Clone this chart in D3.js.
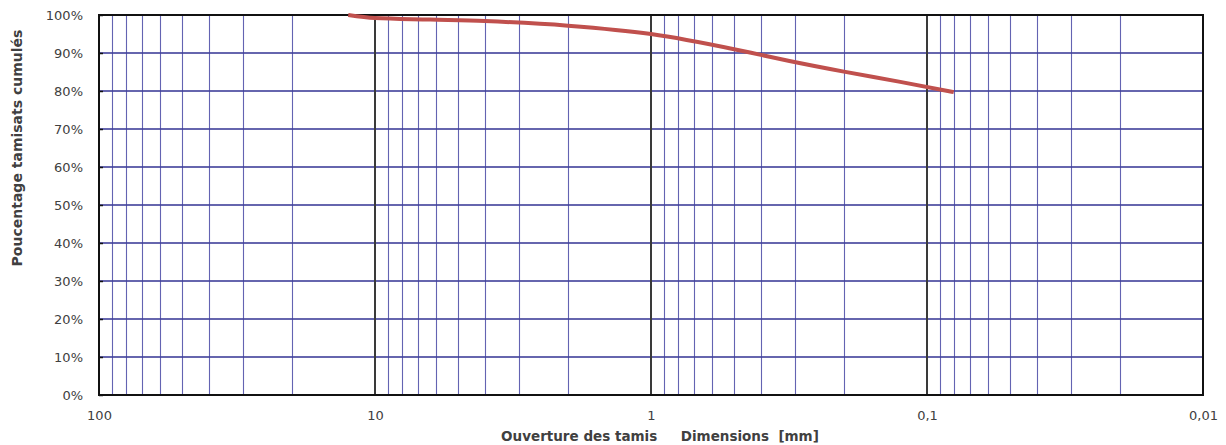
<!DOCTYPE html>
<html>
<head>
<meta charset="utf-8">
<script src="https://cdn.jsdelivr.net/npm/d3@7"></script>
<style>
  html, body { margin: 0; padding: 0; background: #fff; }
  svg { display: block; }
  text { font-family: "DejaVu Sans", "Liberation Sans", sans-serif; fill: #404040; }
</style>
</head>
<body>
<svg id="chart" width="1226" height="445"></svg>
<script>
// Sieve openings (mm) and cumulative passing (%)
const sieveSizes = [12.5, 10, 6.3, 4, 2, 1, 0.5, 0.4, 0.315, 0.2, 0.125, 0.08];
const passing    = [100, 99.2, 98.8, 98.4, 97.2, 95.0, 91.0, 89.5, 87.9, 85.1, 82.4, 79.7];

// Axis ticks
const xDecades = [100, 10, 1, 0.1, 0.01];
const xTickLabels = ["100", "10", "1", "0,1", "0,01"];
const yTicks = [0, 10, 20, 30, 40, 50, 60, 70, 80, 90, 100];

const xTitle = "Ouverture des tamis     Dimensions  [mm]";
const yTitle = "Poucentage tamisats cumulés";

const margin = { left: 99, right: 23, top: 15, bottom: 50 };
const W = 1226, H = 445;
const svg = d3.select("#chart");

const x = d3.scaleLog().domain([100, 0.01]).range([margin.left, W - margin.right]);
const y = d3.scaleLinear().domain([0, 100]).range([H - margin.bottom, margin.top]);

// minor log grid: 2..9 within each decade
const minorVals = [];
for (let d = 0; d < xDecades.length - 1; d++) {
  const base = xDecades[d + 1];
  for (let k = 2; k <= 9; k++) minorVals.push(base * k);
}

const grid = svg.append("g");
grid.selectAll("line.minor").data(minorVals).join("line")
  .attr("class", "minor")
  .attr("x1", d => Math.round(x(d)) + 0.5).attr("x2", d => Math.round(x(d)) + 0.5)
  .attr("y1", y(0)).attr("y2", y(100))
  .attr("stroke", "#2f2f98").attr("stroke-opacity", 0.75).attr("stroke-width", 1.1);

grid.selectAll("line.h").data(yTicks).join("line")
  .attr("class", "h")
  .attr("x1", x(100)).attr("x2", x(0.01))
  .attr("y1", d => y(d)).attr("y2", d => y(d))
  .attr("stroke", "#40409a").attr("stroke-opacity", 0.8).attr("stroke-width", 1.8);

grid.selectAll("line.major").data(xDecades.slice(1, -1)).join("line")
  .attr("class", "major")
  .attr("x1", d => x(d)).attr("x2", d => x(d))
  .attr("y1", y(0)).attr("y2", y(100))
  .attr("stroke", "#3a3a3a").attr("stroke-width", 2);

// frame
svg.append("rect")
  .attr("x", x(100)).attr("y", y(100))
  .attr("width", x(0.01) - x(100)).attr("height", y(0) - y(100))
  .attr("fill", "none").attr("stroke", "#111").attr("stroke-width", 2);

// y axis labels
const yAxis = d3.axisLeft(y).tickValues(yTicks).tickFormat(d => d + "%").tickSizeInner(-4).tickSizeOuter(0).tickPadding(16);
const gy = svg.append("g").attr("transform", `translate(${x(100)},0)`).call(yAxis);
gy.select(".domain").remove();
gy.selectAll(".tick line").attr("stroke", "#111").attr("stroke-width", 1.5);
gy.selectAll(".tick text").attr("font-size", 13).attr("fill", "#404040")
  .style("font-family", '"DejaVu Sans", sans-serif');

// x axis labels
const xAxis = d3.axisBottom(x).tickValues(xDecades).tickFormat((d, i) => xTickLabels[i]).tickSize(0).tickPadding(16);
const gx = svg.append("g").attr("transform", `translate(0,${y(0)})`).call(xAxis);
gx.select(".domain").remove();
gx.selectAll(".tick text").attr("font-size", 13).attr("fill", "#404040")
  .style("font-family", '"DejaVu Sans", sans-serif');

// grading curve
const line = d3.line()
  .x((d, i) => x(sieveSizes[i]))
  .y(d => y(d))
  .curve(d3.curveMonotoneX);
svg.append("path")
  .datum(passing)
  .attr("d", line)
  .attr("fill", "none")
  .attr("stroke", "#c0504d")
  .attr("stroke-width", 4)
  .attr("stroke-linejoin", "round");

// axis titles
svg.append("text")
  .attr("x", 660).attr("y", 441)
  .attr("text-anchor", "middle")
  .attr("font-size", 13.5).attr("font-weight", "bold").attr("fill", "#222")
  .style("white-space", "pre")
  .text(xTitle);

svg.append("text")
  .attr("transform", `translate(22,${148}) rotate(-90)`)
  .attr("text-anchor", "middle")
  .attr("font-size", 14).attr("font-weight", "bold").attr("fill", "#222")
  .text(yTitle);
</script>
</body>
</html>
